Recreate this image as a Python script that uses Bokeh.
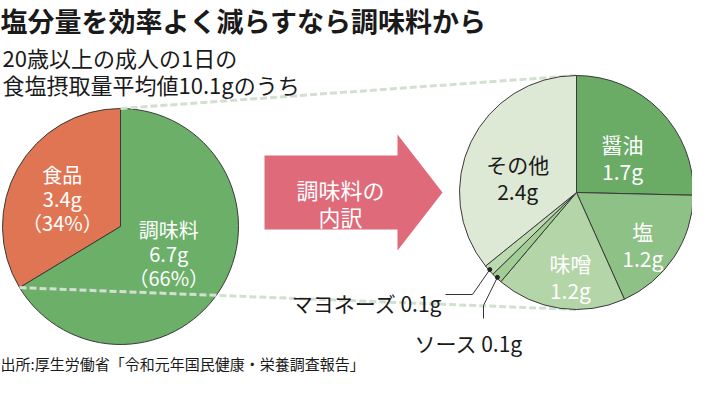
import math
from bokeh.plotting import figure
from bokeh.models import Range1d, Label
from bokeh.core.properties import value
from bokeh.embed import file_html
from bokeh.resources import INLINE

# ---------------- data ----------------
title_text = "塩分量を効率よく減らすなら調味料から"
subtitle_lines = ["20歳以上の成人の1日の", "食塩摂取量平均値10.1gのうち"]
source_text = "出所:厚生労働省「令和元年国民健康・栄養調査報告」"
arrow_text = "調味料の\n内訳"

left_names = ["食品", "調味料"]
left_values = [3.4, 6.7]
left_pcts = [34, 66]

right_names = ["醤油", "塩", "味噌", "ソース", "マヨネーズ", "その他"]
right_values = [1.7, 1.2, 1.2, 0.1, 0.1, 2.4]

# ---------------- styles / layout ----------------
FONT = "Noto Sans CJK JP"
left_colors = ["#DF7552", "#6BAF69"]
left_text_colors = ["white", "white"]
left_label_r = [0.58, 0.44]
left_label_nudge = [-2.4, 7.8]

right_colors = ["#6AAB66", "#8DC185", "#B3D5A8", "#A2CD95", "#BCDAB0", "#DDE9D5"]
right_text_colors = ["white", "white", "white", None, None, "#1a1a1a"]
right_label_r = [0.54, 0.68, 0.65, None, None, 0.54]
right_label_nudge = [-1.2, 0.0, 3.5, 0, 0, 4.2]

MULTI_DY = 8    # vertical correction for multi-line blocks (px)

W, H = 692, 375
def Y(img_y):
    return H + 16 - img_y

p = figure(width=W, height=H, output_backend="svg", toolbar_location=None,
           x_range=Range1d(8, 8 + W), y_range=Range1d(8, 8 + H),
           x_axis_location=None, y_axis_location=None, title=None,
           min_border=0, outline_line_color=None)
p.grid.visible = False
p.background_fill_color = "white"
p.border_fill_color = "white"

def polar(cx, cy, r, deg):
    return cx + r * math.cos(math.radians(deg)), cy + r * math.sin(math.radians(deg))

# ---------------- left pie ----------------
LCX, LCY, LR = 128, Y(234), 118
ltot = sum(left_values)
angles = []
a = 90.0
for v in left_values:
    s = a
    e = a + v / ltot * 360.0
    angles.append((s, e))
    a = e
for (s, e), c in zip(angles, left_colors):
    p.wedge(x=LCX, y=LCY, radius=LR, start_angle=math.radians(s), end_angle=math.radians(e),
            fill_color=c, line_color="#3a3a3a", line_width=1)

for i, ((s, e), name) in enumerate(zip(angles, left_names)):
    mid = (s + e) / 2 + left_label_nudge[i]
    x, y = polar(LCX, LCY, LR * left_label_r[i], mid)
    txt = f"{name}\n{left_values[i]:.1f}g\n（{left_pcts[i]}%）"
    p.text(x=[x], y=[y - MULTI_DY], text=[txt], text_font=value(FONT), text_font_size="20px",
           text_color=left_text_colors[i], text_align="center", text_baseline="middle",
           text_line_height=0.82)

# ---------------- right pie geometry ----------------
RCX, RCY, RR = 584, Y(200), 117
rtot = sum(right_values)
k = 360.0 / rtot
rangles = []
cum = 0.0
for v in right_values:
    end = 90 - cum * k
    start = 90 - (cum + v) * k
    rangles.append((start, end))
    cum += v

# dashed connectors (under the right pie, over the left pie)
top_l = (LCX, LCY + LR)
split_deg = angles[0][1]
bot_l = polar(LCX, LCY, LR, split_deg)
p.line(x=[top_l[0], RCX], y=[top_l[1], RCY + RR], line_color="#d3dfd1", line_width=3, line_dash="7 3")
p.line(x=[bot_l[0], RCX], y=[bot_l[1], RCY - RR], line_color="#d3dfd1", line_width=3, line_dash="7 3")

for (s, e), c in zip(rangles, right_colors):
    p.wedge(x=RCX, y=RCY, radius=RR, start_angle=math.radians(s), end_angle=math.radians(e),
            fill_color=c, line_color="#3a3a3a", line_width=1)

for i, ((s, e), name) in enumerate(zip(rangles, right_names)):
    if right_label_r[i] is None:
        continue
    mid = (s + e) / 2 + right_label_nudge[i]
    x, y = polar(RCX, RCY, RR * right_label_r[i], mid)
    txt = f"{name}\n{right_values[i]:.1f}g"
    p.text(x=[x], y=[y - MULTI_DY], text=[txt], text_font=value(FONT), text_font_size="21px",
           text_color=right_text_colors[i], text_align="center", text_baseline="middle",
           text_line_height=0.9)

# leader lines for small slices
i_mayo = right_names.index("マヨネーズ")
i_sauce = right_names.index("ソース")
ms, me = rangles[i_mayo]
mx, my = polar(RCX, RCY, RR - 1, (ms + me) / 2)
p.line(x=[mx, 480, 453], y=[my, Y(302), Y(302)], line_color="#333333", line_width=1)
p.scatter(x=[mx], y=[my], size=4, color="#222222")
p.text(x=[450], y=[Y(310)], text=[f"マヨネーズ {right_values[i_mayo]:.1f}g"],
       text_font=value(FONT), text_font_size="21px", text_color="#1a1a1a",
       text_align="right", text_baseline="alphabetic")

ss, se = rangles[i_sauce]
sx, sy = polar(RCX, RCY, RR - 1, (ss + se) / 2)
p.line(x=[sx, 491, 491], y=[sy, Y(313), Y(326)], line_color="#333333", line_width=1)
p.scatter(x=[sx], y=[sy], size=4, color="#222222")
p.text(x=[422], y=[Y(350)], text=[f"ソース {right_values[i_sauce]:.1f}g"],
       text_font=value(FONT), text_font_size="21px", text_color="#1a1a1a",
       text_align="left", text_baseline="alphabetic")

# ---------------- arrow ----------------
ax = [272, 405, 405, 450, 405, 405, 272]
ay = [Y(163), Y(163), Y(142), Y(200), Y(258), Y(237), Y(237)]
p.patch(x=ax, y=ay, fill_color="#DE6A7A", line_color=None)
p.text(x=[348], y=[Y(203) - 7], text=[arrow_text], text_font=value(FONT), text_font_size="22px",
       text_color="white", text_align="center", text_baseline="middle", text_line_height=0.85)

# ---------------- titles ----------------
p.text(x=[8], y=[Y(8)], text=[title_text], text_font=value(FONT), text_font_size="27px",
       text_font_style="bold", text_color="#1a1a1a", text_align="left", text_baseline="top")
for j, line in enumerate(subtitle_lines):
    p.text(x=[10], y=[Y(64 + 27 * j)], text=[line], text_font=value(FONT), text_font_size="22px",
           text_color="#1a1a1a", text_align="left", text_baseline="alphabetic")
p.add_layout(Label(x=8, y=Y(371), text=source_text, text_font=FONT, text_font_size="15px",
                   text_color="#1a1a1a", text_align="left", text_baseline="alphabetic"))

open("out.html", "w").write(file_html(p, INLINE))
